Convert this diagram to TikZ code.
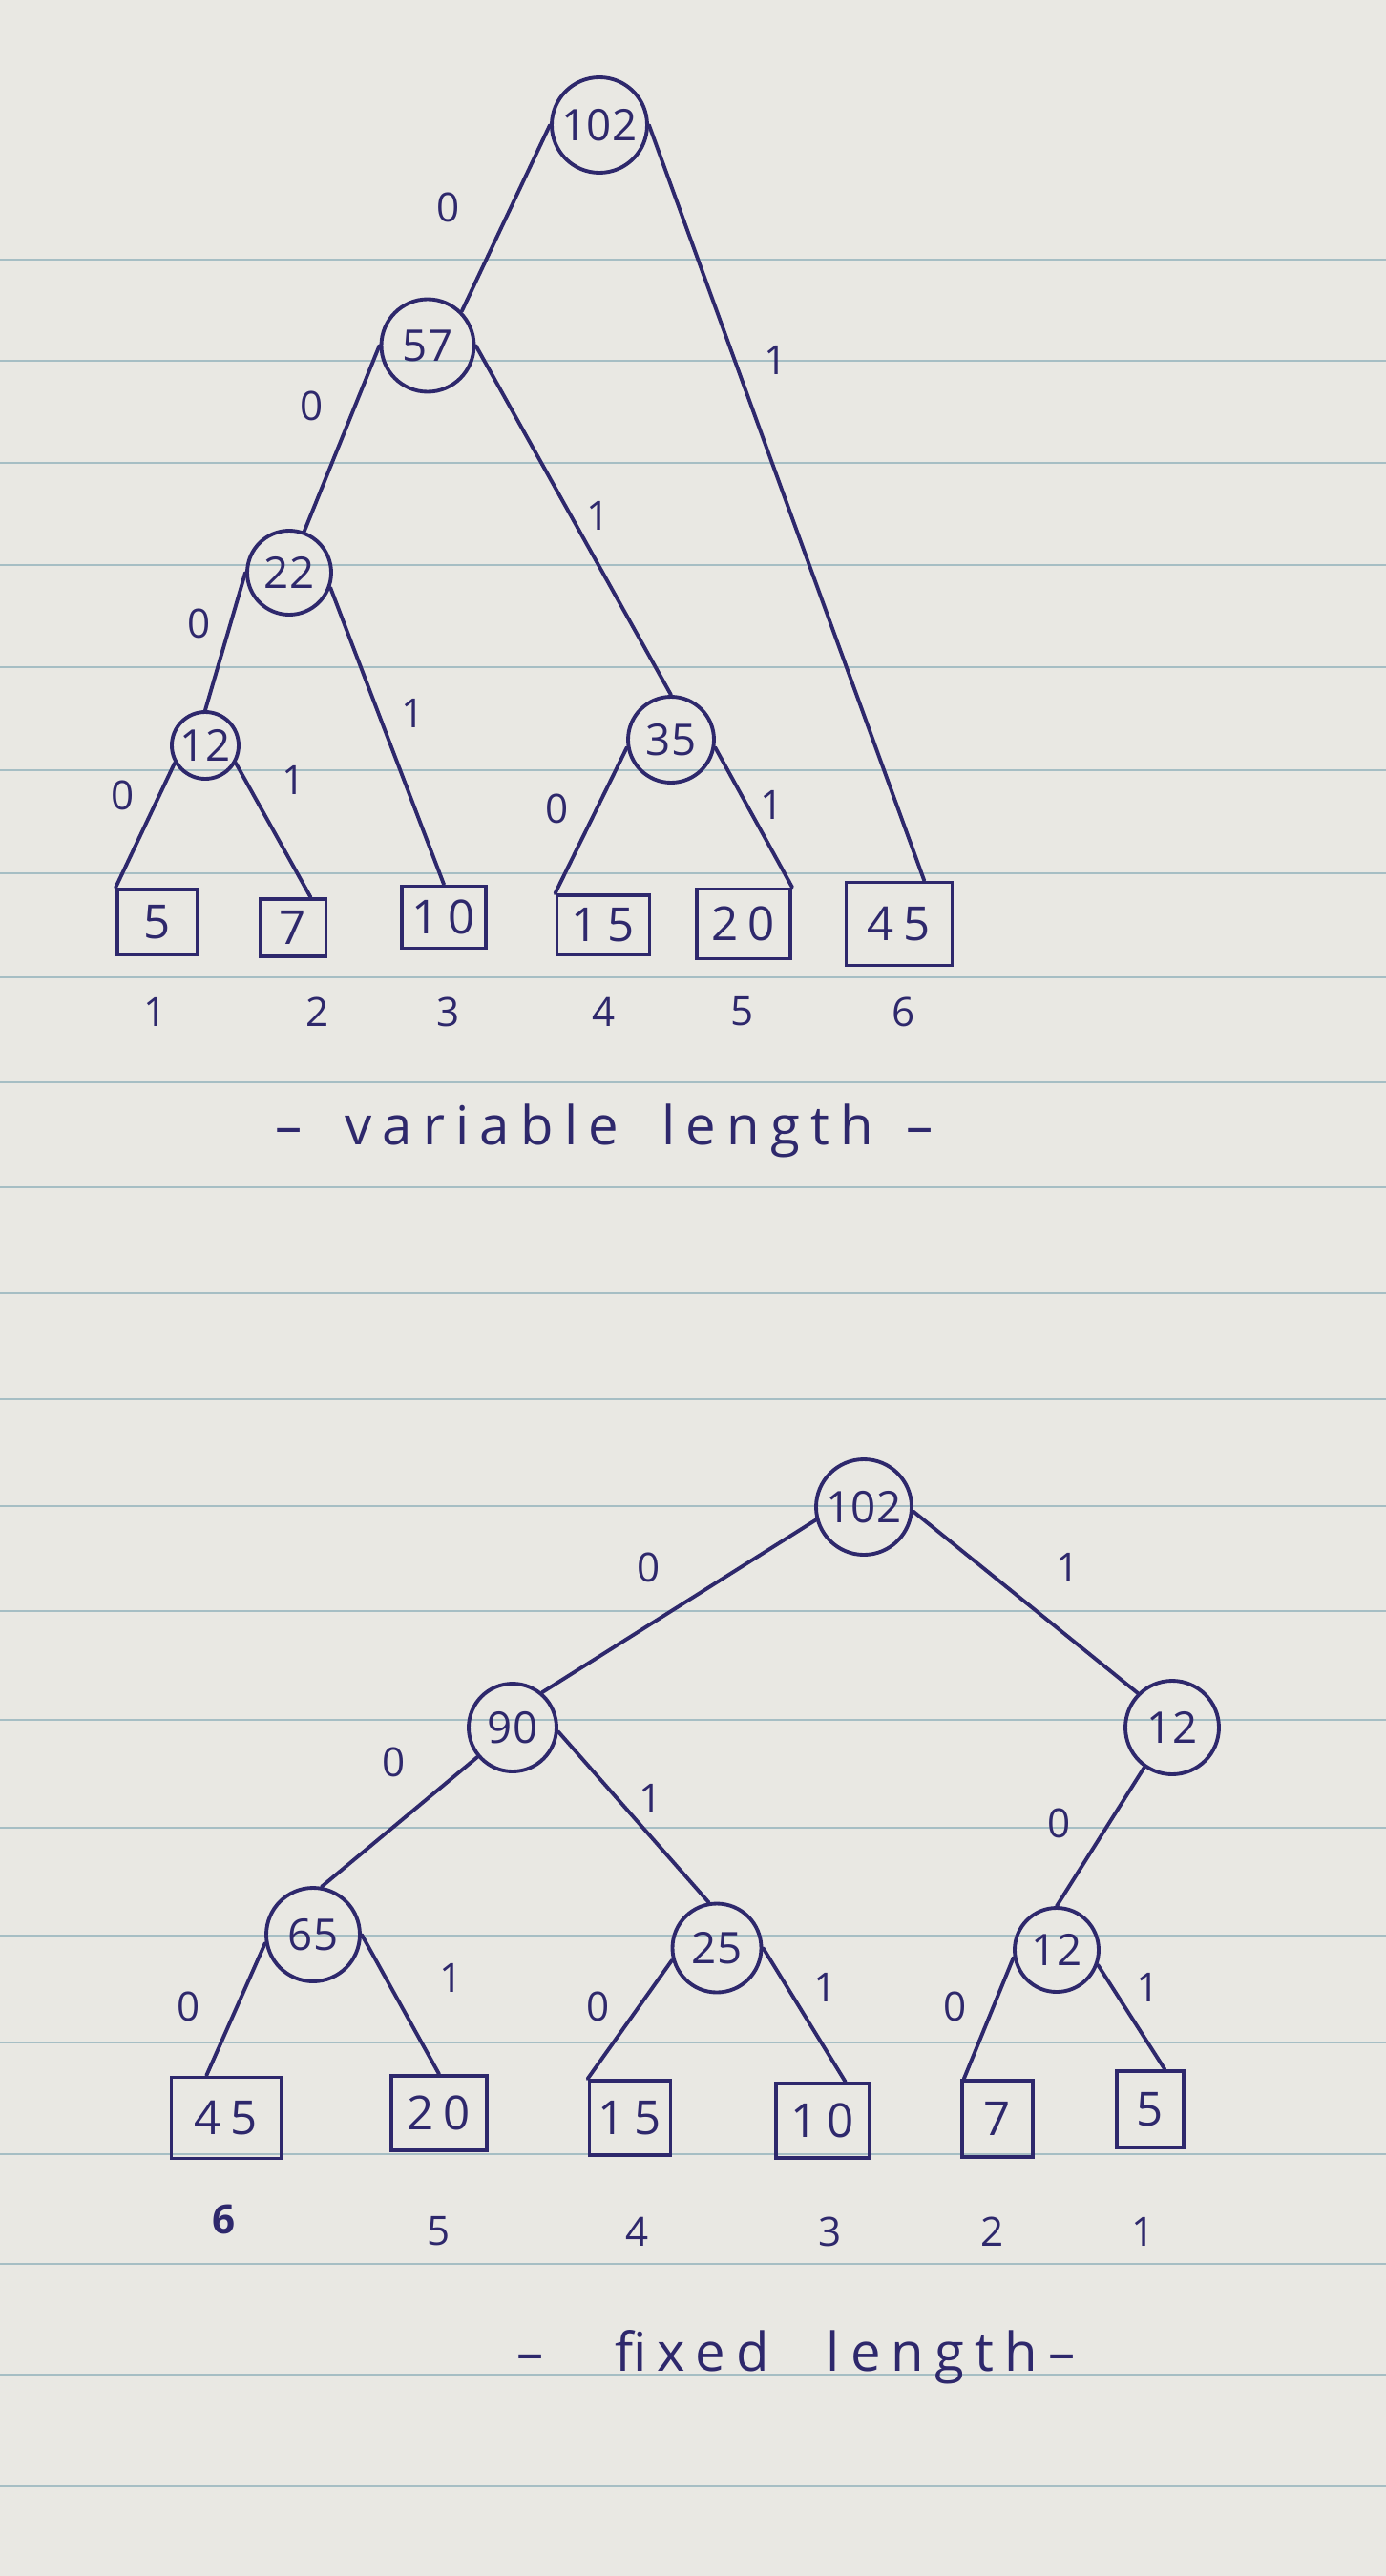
\documentclass[tikz,border=0pt]{standalone}
\usepackage{fontspec}
\newfontfamily\handfont{Open Sans}
\newfontfamily\handwide[LetterSpace=20]{Open Sans}
\definecolor{ink}{RGB}{46,40,108}
\definecolor{ruling}{RGB}{166,190,196}
\definecolor{paper}{RGB}{233,232,227}
\tikzset{
  sum/.style={circle, draw=ink, line width=1.1pt, inner sep=0pt, minimum size=#1,
    text=ink, font=\handfont\fontsize{13}{15}\selectfont},
  sum/.default=9mm,
  leaf/.style={rectangle, draw=ink, line width=1.1pt, inner sep=0pt, minimum width=#1,
    minimum height=7.5mm, text=ink, font=\handwide\fontsize{14}{16}\selectfont},
  leaf/.default=9mm,
  bit/.style={text=ink, font=\handfont\fontsize{12}{14}\selectfont, inner sep=1pt},
  idx/.style={text=ink, font=\handfont\fontsize{12}{14}\selectfont, inner sep=1pt},
  heading/.style={text=ink, font=\handwide\fontsize{16}{19}\selectfont},
  link/.style={draw=ink, line width=1.1pt, line cap=round},
  ruled/.style={draw=ruling, line width=0.8pt},
}
\begin{document}
\begin{tikzpicture}
  \useasboundingbox (0,0) rectangle (14.52,-26.99);
  \fill[paper] (0,0) rectangle (14.52,-26.99);
  % ruled paper
  \foreach \y in {2.72,3.78,4.85,5.92,6.99,8.07,9.15,10.24,11.34,12.44,13.55,
    14.66,15.78,16.88,18.02,19.15,20.28,21.40,22.57,23.72,24.88,26.05}
    \draw[ruled] (0,-\y) -- (14.52,-\y);

  % variable length tree
  \node[sum=10mm] (t102) at (6.28,-1.31) {102};
  \node[sum=9.7mm] (t57) at (4.48,-3.62) {57};
  \node[sum=8.8mm] (t22) at (3.03,-6.00) {22};
  \node[sum=7mm] (t12) at (2.15,-7.81) {12};
  \node[sum=9mm] (t35) at (7.03,-7.75) {35};
  \node[leaf=8.4mm, minimum height=6.8mm] (t5) at (1.65,-9.66) {5};
  \node[leaf=6.9mm, minimum height=6.0mm] (t7) at (3.07,-9.72) {7};
  \node[leaf=8.8mm, minimum height=6.5mm] (t10) at (4.65,-9.61) {10};
  \node[leaf=9.7mm, minimum height=6.2mm] (t15) at (6.32,-9.69) {15};
  \node[leaf=9.8mm, minimum height=7.3mm] (t20) at (7.79,-9.68) {20};
  \node[leaf=11.1mm, minimum height=8.7mm] (t45) at (9.42,-9.68) {45};
  \foreach \x/\n in {1.63/1, 3.33/2, 4.70/3, 6.33/4, 7.78/5, 9.47/6}
    \node[idx] (ti\n) at (\x,-10.60) {\n};

  \draw[link] (t102.west) -- (t57.45);
  \draw[link] (t102.east) -- (t45.60);
  \draw[link] (t57.west) -- (t22.70);
  \draw[link] (t57.east) -- (t35.north);
  \draw[link] (t22.west) -- (t12.north);
  \draw[link] (t22.-20) -- (t10.north);
  \draw[link] (t12.210) -- (t5.north west);
  \draw[link] (t12.-30) -- (t7.60);
  \draw[link] (t35.190) -- (t15.north west);
  \draw[link] (t35.-10) -- (t20.north east);

  \node[bit] (ta0) at (4.70,-2.17) {0};
  \node[bit] (ta1) at (8.13,-3.77) {1};
  \node[bit] (tb0) at (3.27,-4.25) {0};
  \node[bit] (tb1) at (6.27,-5.40) {1};
  \node[bit] (tc0) at (2.09,-6.53) {0};
  \node[bit] (tc1) at (4.33,-7.47) {1};
  \node[bit] (td0) at (1.29,-8.33) {0};
  \node[bit] (td1) at (3.08,-8.17) {1};
  \node[bit] (te0) at (5.84,-8.47) {0};
  \node[bit] (te1) at (8.09,-8.43) {1};

  \node[heading] (vtitle) at (6.33,-11.85)
    {–\hspace{4.5mm}variable\hspace{4.5mm}length\hspace{3.5mm}–};

  % fixed length tree
  \node[sum=10mm] (b102) at (9.05,-15.79) {102};
  \node[sum=9.2mm] (b90) at (5.37,-18.10) {90};
  \node[sum=9.8mm] (b12r) at (12.28,-18.10) {12};
  \node[sum=9.8mm] (b65) at (3.28,-20.27) {65};
  \node[sum=9.3mm] (b25) at (7.51,-20.41) {25};
  \node[sum=8.8mm] (b12l) at (11.07,-20.43) {12};
  \node[leaf=11.5mm, minimum height=8.5mm] (b45) at (2.37,-22.19) {45};
  \node[leaf=10mm, minimum height=7.8mm] (b20) at (4.60,-22.14) {20};
  \node[leaf=8.5mm, minimum height=7.8mm] (b15) at (6.60,-22.19) {15};
  \node[leaf=9.8mm, minimum height=7.8mm] (b10) at (8.62,-22.22) {10};
  \node[leaf=7.4mm, minimum height=8mm] (b7) at (10.45,-22.20) {7};
  \node[leaf=7mm, minimum height=8mm] (b5) at (12.05,-22.10) {5};
  \node[idx, font=\handfont\bfseries\fontsize{12}{14}\selectfont] (bi6) at (2.35,-23.25) {6};
  \foreach \x/\n in {4.60/5, 6.68/4, 8.70/3, 10.40/2, 11.98/1}
    \node[idx] (bi\n) at (\x,-23.38) {\n};

  \draw[link] (b102.195) -- (b90.50);
  \draw[link] (b102.-5) -- (b12r.135);
  \draw[link] (b90.220) -- (b65.80);
  \draw[link] (b90.-5) -- (b25.100);
  \draw[link] (b12r.235) -- (b12l.north);
  \draw[link] (b65.190) -- (b45.115);
  \draw[link] (b65.east) -- (b20.north);
  \draw[link] (b25.195) -- (b15.north west);
  \draw[link] (b25.east) -- (b10.60);
  \draw[link] (b12l.190) -- (b7.130);
  \draw[link] (b12l.-20) -- (b5.70);

  \node[bit] (ba0) at (6.80,-16.42) {0};
  \node[bit] (ba1) at (11.19,-16.42) {1};
  \node[bit] (bb0) at (4.13,-18.46) {0};
  \node[bit] (bb1) at (6.82,-18.84) {1};
  \node[bit] (bc0) at (11.10,-19.10) {0};
  \node[bit] (bd0) at (1.98,-21.02) {0};
  \node[bit] (bd1) at (4.73,-20.72) {1};
  \node[bit] (be0) at (6.27,-21.02) {0};
  \node[bit] (be1) at (8.65,-20.82) {1};
  \node[bit] (bf0) at (10.01,-21.02) {0};
  \node[bit] (bf1) at (12.03,-20.82) {1};

  \node[heading] (ftitle) at (8.34,-24.70)
    {–\hspace{7.5mm}fixed\hspace{6mm}length–};
\end{tikzpicture}
\end{document}
